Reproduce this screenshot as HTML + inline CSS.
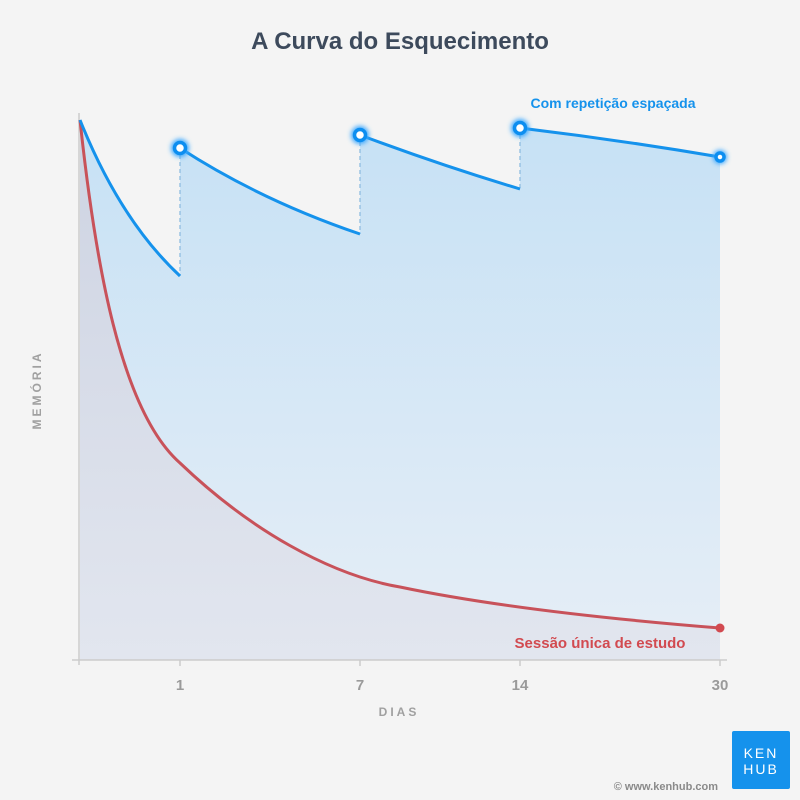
<!DOCTYPE html>
<html><head><meta charset="utf-8"><style>
html,body{margin:0;padding:0;width:800px;height:800px;overflow:hidden;background:#f4f4f4;font-family:"Liberation Sans",sans-serif}
svg{display:block}
</style></head><body>
<svg width="800" height="800" viewBox="0 0 800 800" xmlns="http://www.w3.org/2000/svg">
<defs>
<linearGradient id="bg" x1="0" y1="0" x2="0" y2="1"><stop offset="0" stop-color="#c6e1f5"/><stop offset="1" stop-color="#e6eef6"/></linearGradient>
<linearGradient id="rg" x1="0" y1="0" x2="0" y2="1"><stop offset="0" stop-color="#cdd3e2"/><stop offset="1" stop-color="#e2e6ef"/></linearGradient>
<filter id="gl" x="-1" y="-1" width="3" height="3"><feGaussianBlur stdDeviation="2.5"/></filter>
</defs>
<rect width="800" height="800" fill="#f4f4f4"/>
<text x="400" y="49" text-anchor="middle" font-size="24" font-weight="bold" fill="#3d4a5c">A Curva do Esquecimento</text>
<path d="M80,120 Q120,220 180,276 L180,148 Q260,200 360,234 L360,135 Q440,165 520,189 L520,128 Q620,140 720,157 L720,660 L80,660 Z" fill="url(#bg)"/>
<path d="M80,120 C95,260 120,410 180,463 C250,530 330,575 400,587 C500,608 620,620 720,628 L720,660 L80,660 Z" fill="url(#rg)"/>
<g stroke="#8fbde0" stroke-width="1.3" stroke-dasharray="4,3"><line x1="180" y1="148" x2="180" y2="276"/><line x1="360" y1="135" x2="360" y2="234"/><line x1="520" y1="128" x2="520" y2="189"/></g>
<line x1="79" y1="113" x2="79" y2="665" stroke="#cccccc" stroke-width="1.5"/>
<line x1="72" y1="660" x2="727" y2="660" stroke="#cccccc" stroke-width="1.5"/>
<g stroke="#cccccc" stroke-width="1.5"><line x1="180" y1="660" x2="180" y2="666"/><line x1="360" y1="660" x2="360" y2="666"/><line x1="520" y1="660" x2="520" y2="666"/><line x1="720" y1="660" x2="720" y2="666"/></g>
<path d="M80,120 C95,260 120,410 180,463 C250,530 330,575 400,587 C500,608 620,620 720,628" fill="none" stroke="#c8525a" stroke-width="3"/>
<circle cx="720" cy="628" r="4.5" fill="#d24a50"/>
<g fill="none" stroke="#1592ec" stroke-width="3"><path d="M80,120 Q120,220 180,276"/><path d="M180,148 Q260,200 360,234"/><path d="M360,135 Q440,165 520,189"/><path d="M520,128 Q620,140 720,157"/></g>
<g><g filter="url(#gl)" fill="#3aa8ff"><circle cx="180" cy="148" r="9"/><circle cx="360" cy="135" r="9"/><circle cx="520" cy="128" r="9"/><circle cx="720" cy="157" r="7"/></g>
<g fill="#fff" stroke="#0d8ef0" stroke-width="3.5"><circle cx="180" cy="148" r="5.5"/><circle cx="360" cy="135" r="5.5"/><circle cx="520" cy="128" r="5.5"/><circle cx="720" cy="157" r="4"/></g></g>
<text x="613" y="108" text-anchor="middle" font-size="14" font-weight="bold" fill="#1592ec">Com repetição espaçada</text>
<text x="600" y="648" text-anchor="middle" font-size="15" font-weight="bold" fill="#d24a50">Sessão única de estudo</text>
<g font-size="15" font-weight="bold" fill="#9a9a9a" text-anchor="middle"><text x="180" y="690">1</text><text x="360" y="690">7</text><text x="520" y="690">14</text><text x="720" y="690">30</text></g>
<text x="399" y="716" text-anchor="middle" font-size="12" font-weight="bold" fill="#a0a0a0" letter-spacing="3">DIAS</text>
<text transform="translate(41,390) rotate(-90)" text-anchor="middle" font-size="12" font-weight="bold" fill="#a0a0a0" letter-spacing="3">MEMÓRIA</text>
<rect x="732" y="731" width="58" height="58" rx="2" fill="#1592ec"/>
<text x="761" y="758" text-anchor="middle" font-size="14" fill="#fff" letter-spacing="2">KEN</text>
<text x="761" y="774" text-anchor="middle" font-size="14" fill="#fff" letter-spacing="2">HUB</text>
<text x="718" y="790" text-anchor="end" font-size="11" font-weight="bold" fill="#8a8a8a">© www.kenhub.com</text>
</svg>
</body></html>
